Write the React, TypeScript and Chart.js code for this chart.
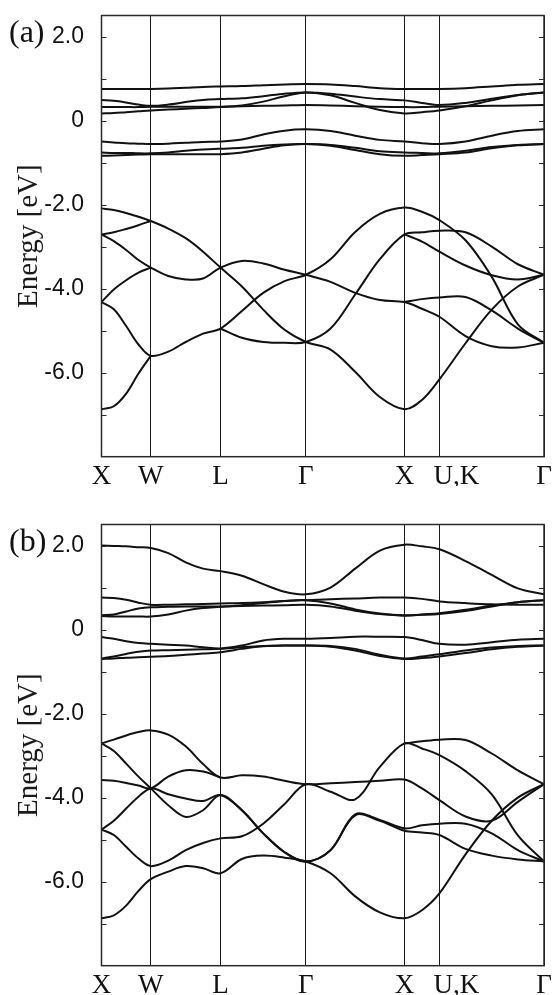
import React, { useEffect, useRef } from 'react';
import { Chart, registerables } from 'chart.js';

Chart.register(...registerables);

const _ = null;

// k-path sample positions (2π/a units): X-W-L-Γ-X-U,K-Γ
const kGrid = [
  0, 0.125, 0.25, 0.375, 0.5,
  0.677, 0.854, 1.03, 1.207,
  1.424, 1.64, 1.857, 2.073,
  2.323, 2.573, 2.823, 3.073,
  3.25, 3.427,
  3.692, 3.958, 4.223, 4.488,
];
const kTicks = [0, 0.5, 1.207, 2.073, 3.073, 3.427, 4.488];
const kLabels = ['X', 'W', 'L', 'Γ', 'X', '     U,K', 'Γ'];

const yMin = -8;
const yMax = 2.5;
const yTickValues = [-7, -6, -5, -4, -3, -2, -1, 0, 1, 2];
const yLabelValues = [2, 0, -2, -4, -6];

// ---------------- panel (a) ----------------
const aT1 = [0.75, 0.75, 0.75, 0.75, 0.75, 0.76, 0.78, 0.8, 0.81, 0.82, 0.84, 0.86, 0.87, 0.86, 0.82, 0.77, 0.75, 0.75, 0.75, 0.77, 0.81, 0.85, 0.87];
const aT2 = [0.49, 0.47, 0.43, 0.38, 0.35, 0.38, 0.44, 0.49, 0.51, 0.53, 0.58, 0.64, 0.67, 0.64, 0.57, 0.51, 0.48, 0.42, 0.37, 0.42, 0.52, 0.61, 0.67];
const aT3 = [0.32, 0.32, 0.32, 0.32, 0.33, 0.33, 0.33, 0.33, 0.33, 0.34, 0.35, 0.36, 0.37, 0.36, 0.34, 0.33, 0.32, 0.32, 0.33, 0.34, 0.35, 0.36, 0.37];
const aT4 = [0.17, 0.18, 0.2, 0.22, 0.24, 0.26, 0.28, 0.3, 0.32, 0.36, 0.45, 0.58, 0.67, 0.6, 0.42, 0.25, 0.17, 0.2, 0.24, 0.34, 0.48, 0.6, 0.67];
const aM1 = [-0.5, -0.52, -0.54, -0.55, -0.56, -0.55, -0.53, -0.51, -0.5, -0.45, -0.33, -0.24, -0.21, -0.25, -0.36, -0.46, -0.5, -0.54, -0.56, -0.5, -0.36, -0.25, -0.21];
const aM2 = [-0.76, -0.77, -0.77, -0.78, -0.78, -0.76, -0.72, -0.69, -0.67, -0.65, -0.6, -0.57, -0.56, -0.58, -0.65, -0.73, -0.76, -0.77, -0.78, -0.72, -0.63, -0.58, -0.56];
const aM3 = [-0.84, -0.83, -0.82, -0.81, -0.8, -0.8, -0.8, -0.8, -0.8, -0.76, -0.67, -0.59, -0.56, -0.6, -0.7, -0.8, -0.84, -0.82, -0.8, -0.76, -0.66, -0.59, -0.56];
const aV1 = [-2.09, -2.13, -2.2, -2.29, -2.39, -2.57, -2.8, -3.12, -3.5, -3.95, -4.5, -4.98, -5.27, -5.45, -5.98, -6.58, -6.87, -6.65, -6.16, -5.3, -4.5, -3.95, -3.67];
const aV2 = [-2.71, -2.66, -2.58, -2.49, -2.39, _, _, _, _, _, _, _, _, _, _, _, _, _, _, _, _, _, _];
const aV3 = [-2.71, -2.87, -3.08, -3.32, -3.5, -3.7, -3.78, -3.76, -3.5, -3.34, -3.4, -3.55, -3.67, -3.84, -4.1, -4.27, -4.32, -4.48, -4.67, -5.13, -5.37, -5.4, -5.29];
const aV4 = [-4.32, -4.02, -3.8, -3.62, -3.5, _, _, _, _, _, _, _, _, _, _, _, _, _, _, _, _, _, _];
const aV5 = [-4.32, -4.49, -4.89, -5.33, -5.6, -5.5, -5.27, -5.07, -4.95, -4.53, -4.1, -3.82, -3.67, -3.3, -2.65, -2.22, -2.07, -2.17, -2.37, -2.85, -3.72, -4.85, -5.29];
const aV6 = [-6.87, -6.8, -6.5, -6.02, -5.6, _, _, _, _, _, _, _, _, _, _, _, _, _, _, _, _, _, _];
const aV7 = [_, _, _, _, _, _, _, _, -4.95, -5.17, -5.27, -5.29, -5.27, -4.95, -4.14, -3.3, -2.71, -2.66, -2.62, -2.66, -3.0, -3.42, -3.67];
const aV8 = [_, _, _, _, _, _, _, _, _, _, _, _, _, _, _, _, -2.71, -2.88, -3.12, -3.45, -3.68, -3.78, -3.67];
const aV9 = [_, _, _, _, _, _, _, _, _, _, _, _, _, _, _, _, -4.32, -4.25, -4.21, -4.2, -4.52, -4.95, -5.29];

// ---------------- panel (b) ----------------
const bT1 = [2.0, 1.99, 1.98, 1.96, 1.94, 1.82, 1.6, 1.45, 1.39, 1.28, 1.08, 0.9, 0.84, 1.0, 1.45, 1.88, 2.02, 1.98, 1.91, 1.63, 1.3, 0.98, 0.84];
const bT2 = [0.76, 0.75, 0.71, 0.64, 0.59, 0.59, 0.6, 0.61, 0.62, 0.63, 0.65, 0.68, 0.7, 0.72, 0.74, 0.76, 0.76, 0.73, 0.67, 0.63, 0.6, 0.59, 0.59];
const bT3 = [0.34, 0.36, 0.43, 0.5, 0.53, 0.54, 0.55, 0.55, 0.55, 0.56, 0.57, 0.58, 0.59, 0.55, 0.45, 0.37, 0.34, 0.35, 0.37, 0.44, 0.55, 0.65, 0.7];
const bT4 = [0.32, 0.31, 0.31, 0.31, 0.31, 0.36, 0.45, 0.51, 0.54, 0.58, 0.63, 0.68, 0.7, 0.62, 0.48, 0.38, 0.33, 0.36, 0.39, 0.47, 0.57, 0.65, 0.7];
const bM1 = [-0.18, -0.22, -0.28, -0.32, -0.34, -0.36, -0.38, -0.42, -0.45, -0.38, -0.26, -0.22, -0.22, -0.2, -0.17, -0.17, -0.18, -0.25, -0.34, -0.36, -0.3, -0.24, -0.22];
const bM2 = [-0.69, -0.64, -0.58, -0.53, -0.5, -0.49, -0.48, -0.47, -0.46, -0.42, -0.39, -0.38, -0.38, -0.39, -0.46, -0.6, -0.69, -0.64, -0.59, -0.5, -0.43, -0.39, -0.38];
const bM3 = [-0.7, -0.69, -0.67, -0.66, -0.65, -0.63, -0.6, -0.57, -0.54, -0.46, -0.4, -0.38, -0.38, -0.41, -0.5, -0.63, -0.7, -0.68, -0.64, -0.56, -0.47, -0.41, -0.38];
const bV1 = [-2.71, -2.62, -2.52, -2.44, -2.4, -2.5, -2.78, -3.2, -3.52, -3.47, -3.5, -3.6, -3.68, -3.66, -3.63, -3.6, -3.57, -3.78, -4.06, -4.45, -4.55, -4.1, -3.68];
const bV2 = [-2.71, -2.89, -3.19, -3.5, -3.78, -4.18, -4.46, -4.3, -3.94, -4.3, -4.85, -5.3, -5.52, -5.25, -4.4, -4.53, -4.73, -4.66, -4.62, -4.62, -4.85, -5.25, -5.52];
const bV3 = [-3.58, -3.6, -3.65, -3.71, -3.78, -3.5, -3.35, -3.38, -3.52, _, _, _, _, _, _, _, _, _, _, _, _, _, _];
const bV4 = [-4.76, -4.55, -4.26, -3.98, -3.78, -3.92, -4.02, -4.08, -3.94, -4.3, -4.85, -5.3, -5.52, -5.25, -4.42, -4.55, -4.79, -4.83, -4.89, -5.22, -5.38, -5.47, -5.52];
const bV5 = [-4.76, -4.89, -5.17, -5.45, -5.63, -5.5, -5.25, -5.08, -4.97, -4.92, -4.62, -4.15, -3.68, -3.86, -4.04, -3.27, -2.71, -2.83, -2.99, -3.37, -3.92, -4.9, -5.52];
const bV6 = [-6.87, -6.8, -6.57, -6.22, -5.94, -5.76, -5.63, -5.68, -5.8, -5.46, -5.38, -5.43, -5.52, -5.8, -6.35, -6.73, -6.87, -6.68, -6.28, -5.35, -4.55, -4.0, -3.68];
const bV7 = [_, _, _, _, _, _, _, _, _, _, _, _, _, _, _, _, -2.71, -2.66, -2.62, -2.63, -2.95, -3.35, -3.68];

const panelABands = [aT1, aT2, aT3, aT4, aM1, aM2, aM3, aV1, aV2, aV3, aV4, aV5, aV6, aV7, aV8, aV9];
const panelBBands = [bT1, bT2, bT3, bT4, bM1, bM2, bM3, bV1, bV2, bV3, bV4, bV5, bV6, bV7];

const CANVAS_W = 552;
const CANVAS_H = 486;
const SERIF = '"Liberation Serif", "Times New Roman", serif';
const SANS = '"Liberation Sans", Arial, sans-serif';
const INK = '#111111';

function makeConfig(bands: (number | null)[][], tag: string): any {
  const framePlugin = {
    id: 'frame' + tag,
    afterDraw(chart: any) {
      const { ctx, chartArea } = chart;
      const ys = chart.scales.y;
      ctx.save();
      ctx.strokeStyle = '#2a2a2a';
      ctx.lineWidth = 1.5;
      ctx.strokeRect(chartArea.left, chartArea.top, chartArea.right - chartArea.left, chartArea.bottom - chartArea.top);
      ctx.lineWidth = 1;
      ctx.beginPath();
      for (const v of yTickValues) {
        const py = Math.round(ys.getPixelForValue(v)) + 0.5;
        ctx.moveTo(chartArea.left, py);
        ctx.lineTo(chartArea.left + 5, py);
        ctx.moveTo(chartArea.right - 5, py);
        ctx.lineTo(chartArea.right, py);
      }
      ctx.stroke();
      ctx.fillStyle = INK;
      ctx.font = '32px ' + SERIF;
      ctx.textBaseline = 'alphabetic';
      ctx.textAlign = 'left';
      ctx.fillText(tag, 9, chartArea.top + 26);
      ctx.restore();
    },
  };

  return {
    type: 'line',
    data: {
      datasets: bands.map((band) => ({
        data: band.map((e, i) => ({ x: kGrid[i], y: e })),
        borderColor: INK,
        borderWidth: 2,
        pointRadius: 0,
        tension: 0.35,
        fill: false,
        spanGaps: false,
      })),
    },
    options: {
      responsive: false,
      animation: false,
      events: [],
      layout: { padding: { top: 15.5, right: 8, left: 0, bottom: 0 } },
      plugins: { legend: { display: false }, tooltip: { enabled: false } },
      scales: {
        x: {
          type: 'linear',
          min: kTicks[0],
          max: kTicks[kTicks.length - 1],
          afterBuildTicks: (s: any) => {
            s.ticks = kTicks.map((v) => ({ value: v }));
          },
          afterFit: (s: any) => {
            s.height = 29.3;
            s.paddingLeft = 0;
            s.paddingRight = 0;
          },
          ticks: {
            autoSkip: false,
            maxRotation: 0,
            padding: 4,
            color: INK,
            font: { family: SERIF, size: 27 },
            callback: (_v: any, i: number) => kLabels[i],
          },
          grid: { display: true, drawOnChartArea: true, drawTicks: false, color: '#1a1a1a', lineWidth: 1 },
          border: { display: false },
        },
        y: {
          type: 'linear',
          min: yMin,
          max: yMax,
          afterBuildTicks: (s: any) => {
            s.ticks = yTickValues.map((v) => ({ value: v }));
          },
          afterFit: (s: any) => {
            s.width = 101.5;
            s.paddingTop = 0;
            s.paddingBottom = 0;
          },
          ticks: {
            padding: 9.5,
            color: INK,
            font: { family: SANS, size: 23 },
            callback: (v: number) => {
              if (!yLabelValues.includes(v)) return '';
              return v === 0 ? '0' : v.toFixed(1);
            },
          },
          grid: { display: false },
          border: { display: false },
          title: {
            display: true,
            text: 'Energy [eV]',
            color: '#1a1a1a',
            font: { family: SERIF, size: 29 },
            padding: { top: 12, bottom: 0 },
          },
        },
      },
    },
    plugins: [framePlugin],
  };
}

function Panel({ bands, tag, top }: { bands: (number | null)[][]; tag: string; top: number }) {
  const ref = useRef<HTMLCanvasElement | null>(null);
  useEffect(() => {
    if (!ref.current) return;
    const chart = new Chart(ref.current, makeConfig(bands, tag));
    return () => chart.destroy();
  }, [bands, tag]);
  return (
    <canvas
      ref={ref}
      width={CANVAS_W}
      height={CANVAS_H}
      style={{ position: 'absolute', left: 0, top, width: CANVAS_W, height: CANVAS_H, display: 'block' }}
    />
  );
}

export default function App() {
  return (
    <div style={{ position: 'absolute', left: 0, top: 0, width: 552, height: 995, background: '#ffffff', overflow: 'hidden' }}>
      <Panel bands={panelABands} tag="(a)" top={0} />
      <Panel bands={panelBBands} tag="(b)" top={509} />
    </div>
  );
}
